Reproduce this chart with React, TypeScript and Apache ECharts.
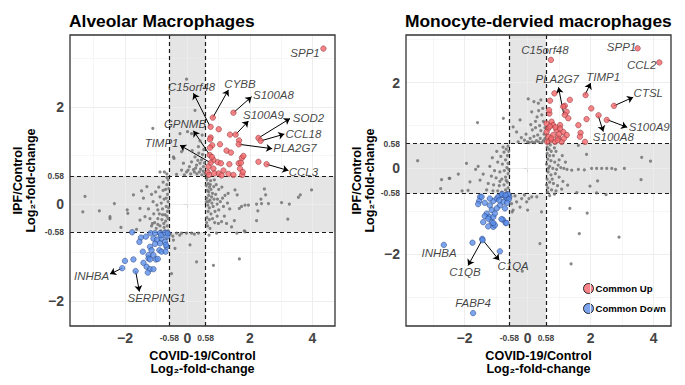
import React, { useEffect, useRef } from 'react';
import * as echarts from 'echarts';

const FONT = "'Liberation Sans', Arial, Helvetica, sans-serif";
const T = 0.58;

// ---------- tick labels ----------
const xTicks = [-2, -0.58, 0, 0.58, 2, 4];
const yTicks = [-2, -0.58, 0, 0.58, 2];
const gridMajor = [-2, 0, 2, 4];
const gridMinor = [-3, -1, 1, 3];

// ---------- Alveolar macrophages ----------
const alvGray: number[][] = [
  [-0.03, 2.57], [0.24, 1.93], [0.0, 1.49], [-0.24, 1.45], [0.13, 1.45], [-0.19, 1.08], [-0.45, 0.97], [0.40, 1.30],
  [0.47, 1.42], [0.35, 1.18], [0.24, 0.97], [0.13, 0.87], [0.06, 0.77], [0.29, 0.80], [0.45, 0.91], [0.51, 0.77],
  [0.19, 0.71], [-0.03, 0.66], [0.38, 0.66], [0.56, 0.63], [-0.19, 0.70], [-0.35, 0.61], [-0.13, 0.84], [-0.43, 0.94],
  [0.30, 0.62], [0.42, 0.72], [0.50, 0.68], [0.33, 0.90], [0.48, 1.02], [0.10, 0.62], [0.22, 0.66], [0.46, 0.60],
  [0.54, 0.85], [0.40, 0.84], [0.26, 0.74], [-0.10, 0.60], [0.02, 0.70], [0.36, 1.05], [0.52, 1.12], [0.15, 1.10],
  [-1.11, 1.56], [-0.74, 0.66], [-0.88, 0.66], [-0.66, 0.62],
  [1.52, 0.29], [1.59, 0.19], [1.84, -0.02], [2.21, 0.0], [2.46, 0.31], [2.50, 0.19], [2.35, 0.10], [2.37, 0.01],
  [2.59, 0.01], [3.01, 0.03], [3.26, 0.0], [3.55, 0.14], [3.61, 0.19], [3.97, 0.29], [2.21, -0.34], [2.25, -0.14],
  [3.21, -0.31], [1.66, -0.09], [1.73, -0.05], [1.95, -0.02], [1.50, -0.34], [1.41, -0.47], [1.82, -0.55], [1.58, -0.60],
  [1.09, -0.36], [0.99, -0.40], [1.25, -0.40],
  [0.62, 0.50], [0.66, 0.42], [0.70, 0.35], [0.64, 0.28], [0.75, 0.30], [0.80, 0.22], [0.68, 0.18], [0.62, 0.12],
  [0.72, 0.08], [0.85, 0.10], [0.90, 0.20], [0.78, 0.02], [0.65, -0.02], [0.70, -0.08], [0.82, -0.05], [0.95, 0.00],
  [1.05, 0.05], [1.12, 0.12], [1.00, 0.30], [0.92, 0.40], [0.74, 0.48], [0.86, 0.50], [0.63, 0.55], [0.68, 0.25],
  [0.77, 0.15], [0.60, 0.05], [0.66, -0.15], [0.75, -0.20], [0.88, -0.15], [1.00, -0.12], [1.15, -0.05], [1.28, 0.02],
  [1.20, 0.18], [0.62, -0.28], [0.70, -0.32], [0.80, -0.30], [0.95, -0.25], [0.64, -0.45], [0.72, -0.50], [0.61, -0.38],
  [1.10, 0.35], [1.30, 0.22], [0.84, 0.36], [0.96, 0.10], [0.73, 0.40], [0.60, 0.38], [0.67, 0.05], [0.87, -0.38],
  [1.18, -0.25], [1.35, -0.10],
  [-3.28, 0.16], [-3.35, -0.16], [-2.82, -0.14], [-2.34, 0.01], [-2.48, -0.26], [-1.93, -0.12], [-1.91, -0.19], [-1.73, 0.19],
  [-1.41, 0.12], [-1.52, -0.09], [-1.36, -0.26], [-2.13, -0.48], [-1.63, -0.52], [-1.47, 0.27], [-1.52, -0.33], [-2.48, -0.30],
  [-0.62, 0.50], [-0.66, 0.40], [-0.70, 0.30], [-0.64, 0.20], [-0.75, 0.10], [-0.62, 0.05], [-0.68, -0.05], [-0.80, -0.10],
  [-0.64, -0.15], [-0.72, -0.22], [-0.90, -0.20], [-0.62, -0.30], [-0.70, -0.35], [-0.82, -0.32], [-0.95, -0.30], [-1.05, -0.38],
  [-0.65, -0.45], [-0.75, -0.48], [-0.88, -0.45], [-1.00, -0.50], [-1.15, -0.45], [-0.62, -0.55], [-0.72, -0.55], [-0.85, -0.55],
  [-0.95, -0.12], [-1.08, -0.20], [-1.20, -0.30], [-1.25, -0.10], [-1.10, 0.05], [-0.88, 0.15], [-0.78, 0.28], [-0.92, 0.35],
  [-1.02, 0.25], [-1.15, 0.20], [-0.66, 0.55], [-0.78, 0.45], [-1.30, 0.36], [-0.60, -0.08], [-0.68, 0.12], [-0.84, 0.02],
  [-0.98, -0.02], [-0.60, 0.32], [-0.76, -0.40], [-0.66, -0.25], [-1.12, -0.40], [-0.95, -0.42], [-0.80, -0.22],
  [-0.47, -0.66], [-0.35, -0.60], [-0.19, -0.60], [-0.03, -0.60], [0.13, -0.60], [0.35, -0.60], [-0.45, -0.74], [-0.40, -0.91],
  [0.08, -0.84], [0.29, -1.19], [-0.51, -1.43], [-0.55, -0.62], [-0.25, -0.64], [0.22, -0.62],
  [0.83, -1.26], [1.66, -1.13], [0.69, -0.64], [0.93, -0.60], [1.84, -0.57], [-0.62, -0.62], [-0.66, -0.70],
];

const alvUp: number[][] = [
  [4.35, 3.20], [0.81, 1.78], [1.47, 1.88], [0.74, 1.59], [1.00, 1.54], [1.36, 1.43], [1.54, 1.43], [0.74, 1.37],
  [1.65, 1.31], [2.27, 1.36], [2.34, 1.30], [0.79, 1.21], [1.04, 1.23], [1.64, 1.23], [1.25, 1.10], [1.39, 1.06],
  [1.74, 0.95], [0.71, 1.01], [0.83, 0.91], [0.97, 0.86], [1.07, 0.84], [1.34, 0.82], [1.64, 0.84], [2.27, 0.87],
  [2.53, 0.82], [0.74, 0.85], [0.67, 0.77], [0.83, 0.73], [1.68, 0.73], [0.65, 0.65], [0.99, 0.63], [1.15, 0.69],
  [1.31, 0.62], [1.75, 0.60], [0.69, 0.60], [0.85, 0.63], [1.47, 0.60], [1.09, 0.59], [0.72, 1.16], [1.79, 0.99],
  [0.78, 0.97], [1.71, 0.85], [1.77, 0.66], [0.72, 1.33],
];

const alvDown: number[][] = [
  [-1.77, -0.58], [-1.49, -0.69], [-1.33, -0.67], [-1.54, -0.78], [-1.18, -0.60], [-1.04, -0.60], [-0.88, -0.60], [-0.72, -0.59],
  [-0.65, -0.67], [-1.09, -0.71], [-0.97, -0.73], [-0.83, -0.71], [-0.72, -0.78], [-0.67, -0.88], [-0.88, -0.81], [-1.04, -0.82],
  [-1.20, -0.88], [-1.43, -0.98], [-1.25, -1.05], [-1.15, -0.95], [-1.09, -1.05], [-0.90, -0.95], [-0.83, -0.98], [-1.01, -1.14],
  [-1.25, -1.12], [-1.20, -1.14], [-0.70, -0.98], [-2.00, -1.17], [-1.73, -1.14], [-1.31, -1.29], [-1.20, -1.34], [-1.09, -1.34],
  [-2.09, -1.32], [-1.66, -1.38], [-0.85, -0.64], [-0.63, -0.60], [-0.69, -0.84], [-1.27, -1.41], [-0.95, -1.13], [-1.41, -1.21],
];

// annotation: gene, label centre, arrow start/end (data units)
const alvGenes = ['SPP1', 'C15orf48', 'CYBB', 'S100A8', 'S100A9', 'SOD2', 'CCL18', 'PLA2G7', 'CCL3', 'GPNMB', 'TIMP1', 'INHBA', 'SERPING1'];
const alvLabelPos: number[][] = [
  [3.76, 3.10], [0.13, 2.40], [1.68, 2.47], [2.75, 2.24], [2.43, 1.83], [3.87, 1.78], [3.71, 1.45], [3.44, 1.15],
  [3.71, 0.66], [-0.08, 1.64], [-0.83, 1.25], [-3.07, -1.48], [-0.99, -1.94],
];
const alvArrows: (number[] | null)[] = [
  null, [0.72, 1.60, 0.19, 2.28], [0.81, 1.78, 1.31, 2.35], [1.47, 1.88, 2.05, 2.21], [1.54, 1.43, 1.95, 1.71],
  [2.27, 1.36, 3.28, 1.76], [2.34, 1.30, 3.10, 1.44], [1.65, 1.23, 2.71, 1.14], [2.53, 0.82, 3.23, 0.69],
  [0.71, 1.01, 0.19, 1.51], [0.74, 0.85, -0.24, 1.21], [-2.09, -1.32, -2.48, -1.44], [-1.66, -1.38, -1.54, -1.80],
];

// ---------- Monocyte-derived macrophages ----------
const mdmGray: number[][] = [
  [0.02, 1.62], [0.20, 1.56], [0.34, 1.52], [0.42, 1.60], [0.13, 1.32], [-0.46, 0.97], [-0.35, 0.85], [-0.24, 1.13],
  [0.30, 1.20], [0.45, 1.25], [0.50, 1.10], [0.38, 1.00], [0.25, 0.95], [0.15, 0.90], [0.42, 0.88], [0.52, 0.80],
  [0.32, 0.78], [0.20, 0.75], [0.08, 0.70], [0.40, 0.70], [0.50, 0.65], [0.28, 0.65], [0.14, 0.62], [0.00, 0.62],
  [-0.10, 0.66], [0.45, 0.60], [0.35, 0.62], [0.22, 0.60], [0.55, 0.70], [0.55, 0.95], [0.48, 1.40], [0.35, 1.35],
  [-0.05, 0.80], [0.10, 1.02], [-0.20, 0.72], [0.05, 0.60], [-0.30, 0.62], [0.25, 1.10],
  [-0.77, 1.17], [-1.59, 1.07],
  [1.61, 0.54], [1.87, 0.33], [3.62, 0.26], [3.90, 0.17], [2.03, 0.0], [2.19, 0.0], [2.35, 0.0], [2.51, 0.0],
  [2.67, 0.0], [2.79, -0.02], [3.07, 0.0], [3.60, -0.26], [2.22, -0.29], [1.98, -0.41], [2.19, -0.57], [2.49, -0.61],
  [1.56, -0.56], [1.27, -0.39], [1.40, -0.04], [1.61, -0.02], [1.80, -0.03],
  [0.62, 0.50], [0.68, 0.45], [0.75, 0.40], [0.62, 0.35], [0.70, 0.30], [0.82, 0.30], [0.90, 0.40], [0.64, 0.22],
  [0.74, 0.18], [0.86, 0.15], [1.00, 0.20], [0.60, 0.10], [0.70, 0.05], [0.80, 0.00], [0.92, -0.02], [1.05, 0.02],
  [1.15, 0.00], [1.25, -0.02], [0.65, -0.08], [0.74, -0.15], [0.88, -0.12], [1.00, -0.20], [0.62, -0.25], [0.70, -0.32],
  [0.82, -0.35], [0.95, -0.40], [0.64, -0.45], [0.76, -0.50], [0.90, -0.52], [1.08, -0.48], [0.63, -0.55], [1.10, 0.30],
  [1.20, 0.15], [0.97, 0.08], [0.78, -0.25], [1.12, -0.30], [0.66, 0.00], [0.85, 0.48], [0.60, -0.38], [0.72, 0.55],
  [-3.49, 0.18], [-1.94, 0.12], [-1.65, -0.02], [-1.57, 0.05], [-2.20, -0.13], [-2.73, -0.26], [-2.49, -0.23], [-2.76, -0.47],
  [-2.08, -0.52], [-1.89, -0.51], [-1.83, -0.31], [-1.41, -0.13], [-1.51, -0.27], [-2.47, -0.23],
  [-0.62, 0.52], [-0.68, 0.45], [-0.75, 0.38], [-0.64, 0.30], [-0.85, 0.28], [-0.70, 0.20], [-0.62, 0.12], [-0.80, 0.10],
  [-0.95, 0.15], [-0.66, 0.02], [-0.74, -0.05], [-0.88, -0.08], [-1.05, -0.05], [-0.62, -0.12], [-0.70, -0.20], [-0.82, -0.25],
  [-1.00, -0.22], [-1.15, -0.18], [-0.64, -0.32], [-0.75, -0.38], [-0.90, -0.40], [-1.08, -0.38], [-1.25, -0.35], [-0.62, -0.45],
  [-0.70, -0.50], [-0.82, -0.55], [-0.95, -0.52], [-1.10, -0.52], [-1.30, -0.50], [-0.66, -0.56], [-0.98, 0.40], [-1.20, 0.05],
  [-0.60, -0.02], [-0.78, 0.50], [-1.12, 0.25], [-0.60, 0.40], [-0.68, -0.28], [-0.88, -0.30],
  [-0.51, -0.82], [-0.35, -0.78], [-0.19, -0.70], [-0.03, -0.78], [0.04, -0.70], [0.13, -0.66], [-0.24, -0.90], [-0.49, -1.01],
  [0.44, -1.01], [0.0, -0.97], [0.29, -0.66], [0.39, -1.75], [-0.17, -2.39], [-0.46, -0.97], [-0.55, -0.62], [-0.40, -0.64],
  [-0.10, -0.62],
  [1.34, -0.93], [1.89, -1.04], [1.64, -1.52], [2.90, -1.60], [1.38, -2.22], [0.70, -0.63], [0.85, -0.60],
];

const mdmUp: number[][] = [
  [3.49, 2.80], [4.18, 2.47], [0.74, 2.53], [2.74, 1.46], [1.84, 1.71], [0.85, 1.75], [1.34, 1.60], [0.71, 1.58],
  [1.18, 1.46], [2.02, 1.40], [0.69, 1.28], [1.24, 1.32], [1.18, 1.25], [1.29, 1.17], [1.87, 1.15], [2.25, 1.24],
  [2.51, 1.13], [0.76, 1.09], [1.61, 1.01], [1.68, 0.83], [1.66, 0.74], [1.82, 0.62], [0.81, 1.01], [1.03, 1.01],
  [0.65, 0.93], [0.92, 0.89], [1.13, 0.85], [1.24, 0.78], [0.81, 0.78], [0.97, 0.72], [0.65, 0.74], [0.73, 0.66],
  [0.87, 0.62], [1.08, 0.62], [0.60, 0.85], [1.03, 0.93], [0.68, 1.36], [1.13, 1.44], [0.62, 0.62], [0.95, 0.66],
  [0.75, 0.70], [0.70, 0.98], [0.88, 0.96], [1.00, 0.80], [0.60, 1.05], [1.15, 0.70],
];

const mdmDown: number[][] = [
  [-2.66, -1.78], [-1.75, -1.73], [-1.44, -1.64], [-1.43, -1.67], [-0.88, -1.93], [-1.73, -3.37],
  [-1.51, -0.66], [-1.54, -0.76], [-1.57, -0.83], [-1.36, -0.80], [-1.20, -0.86], [-1.09, -0.76], [-0.98, -0.70], [-0.83, -0.62],
  [-0.72, -0.65], [-0.67, -0.70], [-0.77, -0.78], [-0.88, -0.86], [-0.98, -0.93], [-1.14, -0.97], [-1.30, -1.05], [-1.22, -1.13],
  [-1.09, -1.13], [-1.41, -1.25], [-1.14, -1.25], [-1.09, -1.36], [-1.04, -1.32], [-0.79, -1.19], [-0.70, -1.27], [-0.58, -0.66],
  [-0.62, -0.60], [-0.93, -0.66], [-1.46, -0.66], [-0.81, -0.60], [-0.72, -0.93], [-1.36, -1.11], [-1.25, -1.17], [-1.04, -1.05],
  [-1.09, -1.27], [-0.83, -1.18], [-0.67, -1.27], [-1.25, -1.35], [-0.60, -0.72], [-0.65, -0.80], [-0.70, -0.62], [-0.90, -0.74],
  [-1.20, -0.70],
];

const mdmGenes = ['SPP1', 'CCL2', 'C15orf48', 'PLA2G7', 'TIMP1', 'CTSL', 'S100A9', 'S100A8', 'INHBA', 'C1QB', 'C1QA', 'FABP4'];
const mdmLabelPos: number[][] = [
  [2.98, 2.82], [3.62, 2.41], [0.55, 2.75], [0.94, 2.09], [2.40, 2.14], [3.83, 1.75], [3.86, 0.97], [2.72, 0.74],
  [-2.81, -1.96], [-1.99, -2.42], [-0.46, -2.28], [-1.73, -3.14],
];
const mdmArrows: (number[] | null)[] = [
  null, null, null, [1.15, 1.25, 0.98, 1.89], [1.82, 1.71, 2.0, 1.99], [2.74, 1.46, 3.35, 1.66],
  [2.51, 1.14, 3.16, 0.96], [2.24, 1.23, 2.40, 0.86], null, [-1.44, -1.66, -1.89, -2.26], [-1.43, -1.66, -0.90, -2.14], null,
];

const panels = [
  {
    title: 'Alveolar Macrophages', left: 70, xRange: [-3.76, 4.72], yRange: [-2.51, 3.48],
    gray: alvGray, up: alvUp, down: alvDown, genes: alvGenes, labelPos: alvLabelPos, arrows: alvArrows, yNameGap: 33,
  },
  {
    title: 'Monocyte-dervied macrophages', left: 406, xRange: [-3.86, 4.55], yRange: [-3.67, 3.11],
    gray: mdmGray, up: mdmUp, down: mdmDown, genes: mdmGenes, labelPos: mdmLabelPos, arrows: mdmArrows, yNameGap: 29,
  },
];

const isThr = (v: number) => Math.abs(Math.abs(v) - T) < 0.001;
const tickFmt = (v: number) => {
  if (isThr(v)) return `{s|${v < 0 ? '-0.58' : '0.58'}}`;
  if (v < 0) return `{b|\u2212${Math.abs(v)}}`;
  return `{b|${v}}`;
};

const labelRich = {
  b: { fontFamily: FONT, fontSize: 14, fontWeight: 'bold', color: '#444', lineHeight: 16 },
  s: { fontFamily: FONT, fontSize: 8.5, fontWeight: 'bold', color: '#444', lineHeight: 16 },
};

const nameStyle = { fontFamily: FONT, fontWeight: 'bold', fontSize: 12.6, color: '#000', lineHeight: 13 };

function buildOption() {
  const grid: any[] = [];
  const xAxis: any[] = [];
  const yAxis: any[] = [];
  const series: any[] = [];
  const title: any[] = [];

  panels.forEach((p, i) => {
    const [xmin, xmax] = p.xRange;
    const [ymin, ymax] = p.yRange;
    grid.push({
      left: p.left, top: 35, width: 265, height: 291, show: true, z: 20,
      backgroundColor: 'transparent', borderColor: '#333', borderWidth: 1.3,
    });
    title.push({
      text: p.title, left: p.left - 1, top: 12, padding: 0,
      textStyle: { fontFamily: FONT, fontWeight: 'bold', fontSize: 17.4, color: '#000' },
    });
    xAxis.push({
      type: 'value', gridIndex: i, min: xmin, max: xmax,
      axisLine: { show: false }, splitLine: { show: false },
      axisTick: { show: true, customValues: xTicks, length: 4, lineStyle: { color: '#333', width: 1 } },
      axisLabel: { customValues: xTicks, formatter: tickFmt, margin: 4, rich: labelRich },
      name: 'COVID-19/Control\nLog\u2082-fold-change', nameLocation: 'middle', nameGap: 15, nameTextStyle: nameStyle,
    });
    yAxis.push({
      type: 'value', gridIndex: i, min: ymin, max: ymax,
      axisLine: { show: false }, splitLine: { show: false },
      axisTick: { show: true, customValues: yTicks, length: 4, lineStyle: { color: '#333', width: 1 } },
      axisLabel: { customValues: yTicks, formatter: tickFmt, margin: 6, rich: labelRich },
      name: 'IPF/Control\nLog\u2082-fold-change', nameLocation: 'middle', nameGap: p.yNameGap, nameTextStyle: nameStyle,
    });

    const gridLines: any[] = [];
    [...gridMajor, ...gridMinor].forEach((v) => {
      const w = gridMajor.includes(v) ? 0.9 : 0.5;
      if (v > xmin && v < xmax) gridLines.push({ xAxis: v, lineStyle: { width: w } });
      if (v > ymin && v < ymax) gridLines.push({ yAxis: v, lineStyle: { width: w } });
    });

    const bands = [
      [{ xAxis: -T, yAxis: T }, { xAxis: T, yAxis: ymax }],
      [{ xAxis: -T, yAxis: ymin }, { xAxis: T, yAxis: -T }],
      [{ xAxis: xmin, yAxis: -T }, { xAxis: -T, yAxis: T }],
      [{ xAxis: T, yAxis: -T }, { xAxis: xmax, yAxis: T }],
    ];

    series.push({
      type: 'scatter', name: 'Other', xAxisIndex: i, yAxisIndex: i, data: p.gray, symbolSize: 3.2,
      itemStyle: { color: '#6b6b6b' }, z: 10, silent: true,
      markArea: { silent: true, itemStyle: { color: '#e5e5e5' }, data: bands },
      markLine: {
        silent: true, symbol: ['none', 'none'], label: { show: false },
        lineStyle: { color: '#ececec', width: 0.8, type: 'solid' }, data: gridLines,
      },
    });
    series.push({
      type: 'scatter', name: 'Common Up', xAxisIndex: i, yAxisIndex: i, data: p.up, symbolSize: 5.5,
      itemStyle: { color: '#f4656a', borderColor: '#7a2a2a', borderWidth: 0.6 }, z: 11, silent: true,
      markLine: {
        silent: true, symbol: ['none', 'none'], label: { show: false },
        lineStyle: { color: '#1a1a1a', width: 1.2, type: [4, 3] },
        data: [{ xAxis: -T }, { xAxis: T }, { yAxis: -T }, { yAxis: T }],
      },
    });
    series.push({
      type: 'scatter', name: 'Common Down', xAxisIndex: i, yAxisIndex: i, data: p.down, symbolSize: 5.5,
      itemStyle: { color: '#5b8fe8', borderColor: '#1f3a78', borderWidth: 0.6 }, z: 11, silent: true,
    });
    const arrows = p.arrows
      .filter((a) => a)
      .map((a: any) => [{ coord: [a[0], a[1]] }, { coord: [a[2], a[3]] }]);
    series.push({
      type: 'scatter', name: 'labels', xAxisIndex: i, yAxisIndex: i, symbolSize: 1, silent: true, z: 12,
      itemStyle: { color: 'rgba(0,0,0,0)' },
      data: p.genes.map((g, k) => ({ name: g, value: p.labelPos[k] })),
      label: {
        show: true, position: 'inside', formatter: '{b}', fontFamily: FONT, fontStyle: 'italic',
        fontSize: 11.5, color: '#111',
      },
      markLine: {
        silent: true, symbol: ['none', 'arrow'], symbolSize: 6, label: { show: false },
        lineStyle: { color: '#000', width: 1, type: 'solid' }, data: arrows,
      },
    });
  });

  return {
    animation: false,
    backgroundColor: '#fff',
    title,
    grid,
    xAxis,
    yAxis,
    legend: {
      data: ['Common Up', 'Common Down'], orient: 'vertical', left: 583, top: 283, padding: 0,
      itemWidth: 10, itemHeight: 10, itemGap: 9, icon: 'circle',
      itemStyle: { borderColor: '#000', borderWidth: 1 },
      textStyle: { fontFamily: FONT, fontWeight: 'bold', fontSize: 9.6, color: '#000', padding: [0, 0, 0, -3] },
      selectedMode: false,
    },
    series,
  };
}

export default function App() {
  const ref = useRef<HTMLDivElement>(null);
  useEffect(() => {
    if (!ref.current) return;
    const chart = echarts.init(ref.current, undefined, { renderer: 'svg' });
    chart.setOption(buildOption() as any);
    return () => chart.dispose();
  }, []);
  return <div ref={ref} style={{ position: 'absolute', left: 0, top: 0, width: 685, height: 385 }} />;
}
